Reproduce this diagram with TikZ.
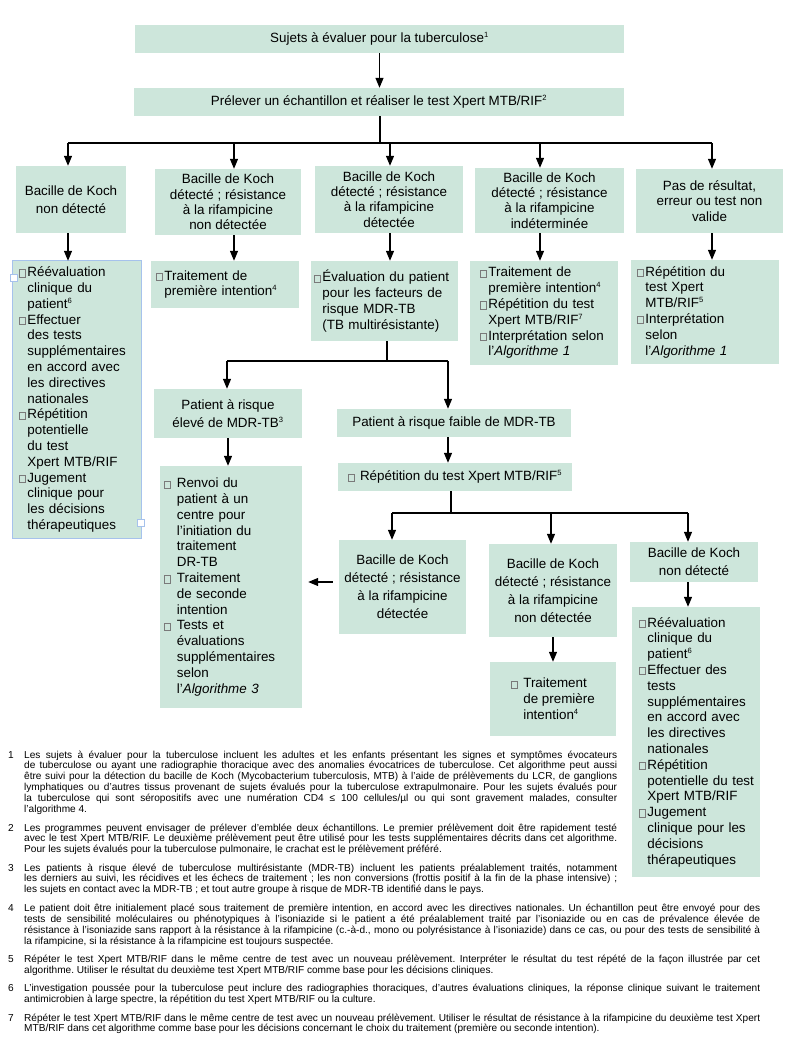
\documentclass[tikz,border=0pt]{standalone}
\usepackage{fontspec}
\setmainfont{Liberation Sans}
\usetikzlibrary{arrows.meta}

\definecolor{boxfill}{HTML}{CDE6DB}
\definecolor{selblue}{HTML}{A6C2EC}
\definecolor{bxgray}{HTML}{7A7A7A}

% petit carre devant chaque point
\newcommand{\bx}{\textcolor{bxgray}{\fboxsep=0pt\fboxrule=0.6pt\fbox{\rule{0pt}{6.6pt}\hspace{5.4pt}}}\kern1.8pt}
\newcommand{\ind}{\phantom{\bx}}
\newcommand{\indsp}{\phantom{\bx\ }}
\newcommand{\sps}[1]{\textsuperscript{\fontsize{7.6}{8}\selectfont #1}}
\frenchspacing

\tikzset{
  box/.style={fill=boxfill, inner sep=0pt, font=\fontsize{13.4}{15.4}\selectfont, align=center},
  loose/.style={font=\fontsize{13.4}{18}\selectfont},
  list/.style={box, align=left, font=\fontsize{13.4}{15.8}\selectfont},
  arr/.style={line width=1.2pt, -{Triangle[length=10pt,width=8pt]}},
  conn/.style={line width=1.2pt},
  handle/.style={draw=selblue, fill=white, line width=0.8pt, minimum size=7pt, inner sep=0pt},
  fnum/.style={font=\fontsize{10.1}{10.9}\selectfont, inner sep=0pt, anchor=base west},
  fnote/.style={font=\fontsize{10.1}{10.9}\selectfont, inner sep=0pt, anchor=base west, align=justify}
}

\begin{document}
\begin{tikzpicture}[x=1pt, y=-1pt]
	\useasboundingbox (0,0) rectangle (802,1051);

	% haut
	\node[box, minimum width=489pt, minimum height=28pt] (sujets) at (379.5,39) {Sujets à évaluer pour la tuberculose\sps{1}};
	\node[box, minimum width=490pt, minimum height=28pt] (prel) at (379,102) {Prélever un échantillon et réaliser le test Xpert MTB/RIF\sps{2}};

	% resultats du premier test
	\node[box, loose, minimum width=110pt, minimum height=67pt] (nk) at (71,199.5) {Bacille de Koch\\non détecté};
	\node[box, minimum width=146pt, minimum height=66pt] (nd) at (228,202) {Bacille de Koch\\détecté ; résistance\\à la rifampicine\\non détectée};
	\node[box, minimum width=148pt, minimum height=67pt] (dt) at (389,199.5) {Bacille de Koch\\détecté ; résistance\\à la rifampicine\\détectée};
	\node[box, minimum width=149pt, minimum height=65pt] (indet) at (549.5,200.5) {Bacille de Koch\\détecté ; résistance\\à la rifampicine\\indéterminée};
	\node[box, minimum width=147pt, minimum height=64pt] (pas) at (709.5,201) {Pas de résultat,\\erreur ou test non\\valide};

	% conduites a tenir
	\node[list, text width=116pt, inner xsep=6pt, minimum height=277pt] (reev) at (77,399.5) {\bx Réévaluation\\\ind clinique du\\\ind patient\sps{6}\\\bx Effectuer\\\ind des tests\\\ind supplémentaires\\\ind en accord avec\\\ind les directives\\\ind nationales\\\bx Répétition\\\ind potentielle\\\ind du test\\\ind Xpert MTB/RIF\\\bx Jugement\\\ind clinique pour\\\ind les décisions\\\ind thérapeutiques};
	\node[list, text width=138pt, inner xsep=5pt, minimum height=47pt] (trt1) at (225,284.5) {\bx Traitement de\\\ind première intention\sps{4}};
	\node[list, text width=141pt, inner xsep=3pt, minimum height=80pt] (evl) at (384.5,301) {\bx Évaluation du patient\\\ind pour les facteurs de\\\ind risque MDR-TB\\\ind (TB multirésistante)};
	\node[list, text width=128pt, inner xsep=10pt, minimum height=104pt] (trt2) at (544,313) {\bx Traitement de\\\ind première intention\sps{4}\\\bx Répétition du test\\\ind Xpert MTB/RIF\sps{7}\\\bx Interprétation selon\\\ind l’\textit{Algorithme 1}};
	\node[list, text width=136pt, inner xsep=6pt, minimum height=104pt] (rep1) at (705,312) {\bx Répétition du\\\ind test Xpert\\\ind MTB/RIF\sps{5}\\\bx Interprétation\\\ind selon\\\ind l’\textit{Algorithme 1}};

	% cadre de selection autour de la premiere liste
	\draw[selblue, line width=0.8pt] (reev.south west) rectangle (reev.north east);
	\node[handle] (h1) at (13.5,278) {};
	\node[handle] (h2) at (140.5,523) {};

	% risque MDR-TB
	\node[box, loose, minimum width=148pt, minimum height=49pt] (haut) at (228,413.5) {Patient à risque\\élevé de MDR-TB\sps{3}};
	\node[box, minimum width=234pt, minimum height=28pt] (faible) at (454,423) {Patient à risque faible de MDR-TB};
	\node[list, text width=134pt, inner xsep=4pt, minimum height=242pt] (renvoi) at (231,587) {\bx\ Renvoi du\\\indsp patient à un\\\indsp centre pour\\\indsp l’initiation du\\\indsp traitement\\\indsp DR-TB\\\bx\ Traitement\\\indsp de seconde\\\indsp intention\\\bx\ Tests et\\\indsp évaluations\\\indsp supplémentaires\\\indsp selon\\\indsp l’\textit{Algorithme 3}};
	\node[box, minimum width=234pt, minimum height=28pt] (rep2) at (455,477) {\bx\ Répétition du test Xpert MTB/RIF\sps{5}};

	% resultats du second test
	\node[box, loose, minimum width=127pt, minimum height=94pt] (bk1) at (402.5,587) {Bacille de Koch\\détecté ; résistance\\à la rifampicine\\détectée};
	\node[box, loose, minimum width=128pt, minimum height=93pt] (bk2) at (553,590.5) {Bacille de Koch\\détecté ; résistance\\à la rifampicine\\non détectée};
	\node[list, minimum width=126pt, minimum height=74pt] (trt3) at (553,699) {\bx\ Traitement\\\indsp de première\\\indsp intention\sps{4}};
	\node[box, loose, minimum width=128pt, minimum height=40pt] (bk3) at (694,562) {Bacille de Koch\\non détecté};
	\node[list, text width=114pt, inner xsep=7pt, minimum height=270pt] (reev2) at (696,742) {\bx Réévaluation\\\ind clinique du\\\ind patient\sps{6}\\\bx Effectuer des\\\ind tests\\\ind supplémentaires\\\ind en accord avec\\\ind les directives\\\ind nationales\\\bx Répétition\\\ind potentielle~du~test\\\ind Xpert MTB/RIF\\\bx Jugement\\\ind clinique pour les\\\ind décisions\\\ind thérapeutiques};

	% fleches du haut
	\coordinate (j0) at (380,143);
	\coordinate (j1) at (68,143);
	\coordinate (j2) at (234,143);
	\coordinate (j3) at (390,143);
	\coordinate (j4) at (540,143);
	\coordinate (j5) at (712,143);
	\draw[arr] (sujets.south) -- (sujets.south |- prel.north);
	\draw[conn] (j0 |- prel.south) -- (j0);
	\draw[conn] (j1) -- (j5);
	\draw[arr] (j1) -- (j1 |- nk.north);
	\draw[arr] (j2) -- (j2 |- nd.north);
	\draw[arr] (j3) -- (j3 |- dt.north);
	\draw[arr] (j4) -- (j4 |- indet.north);
	\draw[arr] (j5) -- (j5 |- pas.north);
	\draw[arr] (j1 |- nk.south) -- (j1 |- reev.north);
	\draw[arr] (j2 |- nd.south) -- (j2 |- trt1.north);
	\draw[arr] (j3 |- dt.south) -- (j3 |- evl.north);
	\draw[arr] (j4 |- indet.south) -- (j4 |- trt2.north);
	\draw[arr] (j5 |- pas.south) -- (j5 |- rep1.north);

	% evaluation du risque
	\coordinate (k0) at (387,361);
	\coordinate (k1) at (227,361);
	\coordinate (k2) at (448,361);
	\draw[conn] (k0 |- evl.south) -- (k0);
	\draw[conn] (k1) -- (k2);
	\draw[arr] (k1) -- (k1 |- haut.north);
	\draw[arr] (k2) -- (k2 |- faible.north);
	\draw[arr] (haut.south) -- (haut.south |- renvoi.north);
	\draw[arr] (k2 |- faible.south) -- (k2 |- rep2.north);

	% second test
	\coordinate (m0) at (451,513);
	\coordinate (m1) at (392,513);
	\coordinate (m2) at (551,513);
	\coordinate (m3) at (688,513);
	\draw[conn] (m0 |- rep2.south) -- (m0);
	\draw[conn] (m1) -- (m3);
	\draw[arr] (m1) -- (m1 |- bk1.north);
	\draw[arr] (m2) -- (m2 |- bk2.north);
	\draw[arr] (m3) -- (m3 |- bk3.north);
	\coordinate (ey) at (0,582);
	\draw[arr, shorten <=6pt, shorten >=6pt] (bk1.west |- ey) -- (renvoi.east |- ey);
	\draw[arr] (bk2) -- (trt3);
	\draw[arr] (m3 |- bk3.south) -- (m3 |- reev2.north);

	% notes
	\node[fnum] (n1) at (8,758) {1};
	\node[fnote, text width=593pt] (f1) at (24,758) {Les sujets à évaluer pour la tuberculose incluent les adultes et les enfants présentant les signes et symptômes évocateurs\linebreak de tuberculose ou ayant une radiographie thoracique avec des anomalies évocatrices de tuberculose. Cet algorithme peut aussi\linebreak être suivi pour la détection du bacille de Koch (Mycobacterium tuberculosis, MTB) à l'aide de prélèvements du LCR, de ganglions\linebreak lymphatiques ou d'autres tissus provenant de sujets évalués pour la tuberculose extrapulmonaire. Pour les sujets évalués pour\linebreak la tuberculose qui sont séropositifs avec une numération CD4 ≤ 100 cellules/µl ou qui sont gravement malades, consulter\linebreak l'algorithme 4.};
	\node[fnum] (n2) at (8,831) {2};
	\node[fnote, text width=593pt] (f2) at (24,831) {Les programmes peuvent envisager de prélever d'emblée deux échantillons. Le premier prélèvement doit être rapidement testé\linebreak avec le test Xpert MTB/RIF. Le deuxième prélèvement peut être utilisé pour les tests supplémentaires décrits dans cet algorithme.\linebreak Pour les sujets évalués pour la tuberculose pulmonaire, le crachat est le prélèvement préféré.};
	\node[fnum] (n3) at (8,871) {3};
	\node[fnote, text width=593pt] (f3) at (24,871) {Les patients à risque élevé de tuberculose multirésistante (MDR-TB) incluent les patients préalablement traités, notamment\linebreak les derniers au suivi, les récidives et les échecs de traitement ; les non conversions (frottis positif à la fin de la phase intensive) ;\linebreak les sujets en contact avec la MDR-TB ; et tout autre groupe à risque de MDR-TB identifié dans le pays.};
	\node[fnum] (n4) at (8,911.3) {4};
	\node[fnote, text width=736pt] (f4) at (24,911.3) {Le patient doit être initialement placé sous traitement de première intention, en accord avec les directives nationales. Un échantillon peut être envoyé pour des\linebreak tests de sensibilité moléculaires ou phénotypiques à l'isoniazide si le patient a été préalablement traité par l'isoniazide ou en cas de prévalence élevée de\linebreak résistance à l'isoniazide sans rapport à la résistance à la rifampicine (c.-à-d., mono ou polyrésistance à l'isoniazide) dans ce cas, ou pour des tests de sensibilité à\linebreak la rifampicine, si la résistance à la rifampicine est toujours suspectée.};
	\node[fnum] (n5) at (8,962.4) {5};
	\node[fnote, text width=736pt] (f5) at (24,962.4) {Répéter le test Xpert MTB/RIF dans le même centre de test avec un nouveau prélèvement. Interpréter le résultat du test répété de la façon illustrée par cet\linebreak algorithme. Utiliser le résultat du deuxième test Xpert MTB/RIF comme base pour les décisions cliniques.};
	\node[fnum] (n6) at (8,991.7) {6};
	\node[fnote, text width=736pt] (f6) at (24,991.7) {L’investigation poussée pour la tuberculose peut inclure des radiographies thoraciques, d’autres évaluations cliniques, la réponse clinique suivant le traitement\linebreak antimicrobien à large spectre, la répétition du test Xpert MTB/RIF ou la culture.};
	\node[fnum] (n7) at (8,1021) {7};
	\node[fnote, text width=736pt] (f7) at (24,1021) {Répéter le test Xpert MTB/RIF dans le même centre de test avec un nouveau prélèvement. Utiliser le résultat de résistance à la rifampicine du deuxième test Xpert\linebreak MTB/RIF dans cet algorithme comme base pour les décisions concernant le choix du traitement (première ou seconde intention).};
\end{tikzpicture}
\end{document}
